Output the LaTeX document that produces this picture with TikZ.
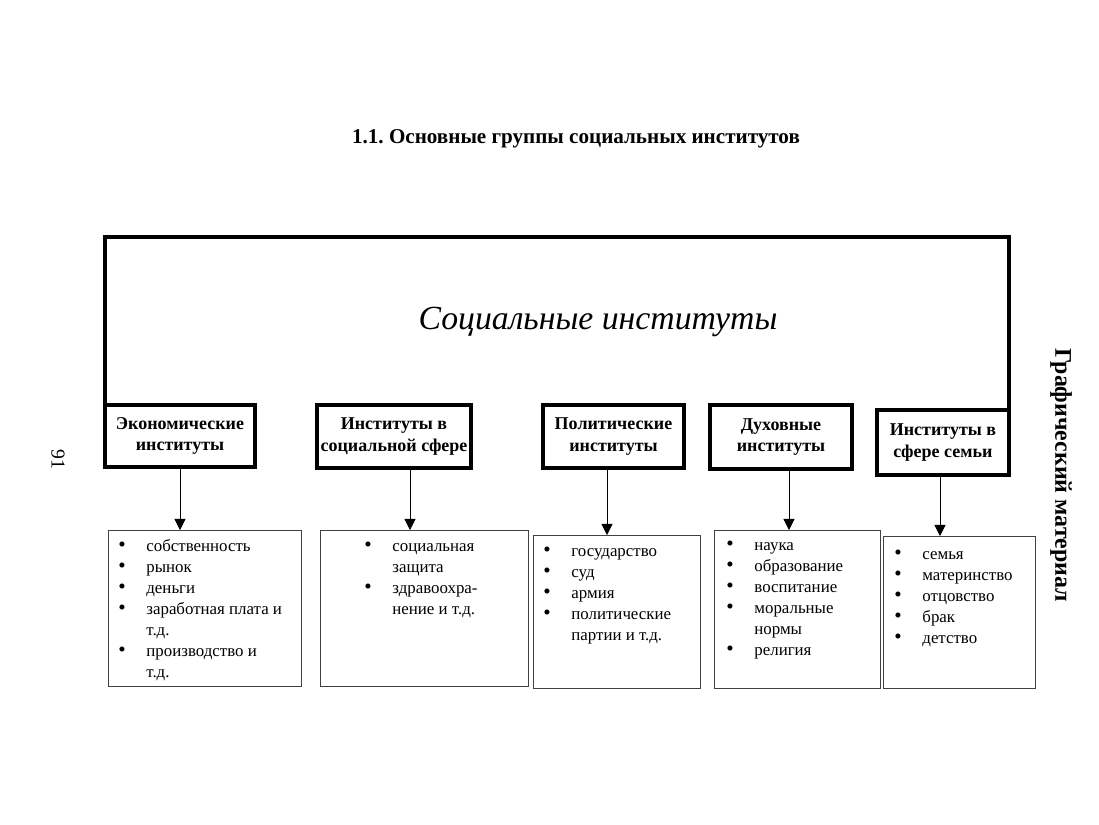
\documentclass[tikz,border=0pt]{standalone}
\usepackage{fontspec}
\setmainfont{Liberation Serif}
\usetikzlibrary{calc}
\usetikzlibrary{arrows.meta}
\usetikzlibrary{positioning}
\newlength\px
\setlength\px{0.025cm}
\newcommand{\bul}{{\fontsize{15}{14.9}\selectfont\textbullet}}
\tikzset{catbox/.style={rectangle,draw=black,line width=2.4pt,outer sep=0pt,fill=white,align=center,inner sep=1pt,font=\fontsize{12.8}{15.5}\selectfont\bfseries}}
\tikzset{listbox/.style={rectangle,draw=black!75,line width=0.6pt,outer sep=0pt,anchor=north west}}
\tikzset{listtext/.style={anchor=north west,inner sep=0pt,font=\fontsize{12}{14.9}\selectfont}}
\tikzset{arr/.style={line width=0.5pt,-{Triangle[width=8pt,length=8pt]}}}

\begin{document}
\begin{tikzpicture}[x=0.025cm,y=-0.025cm]
\useasboundingbox (0,0) rectangle (1099,824);

\node[font=\fontsize{15}{18}\selectfont\bfseries] (title) at (576,139) {1.1.\ Основные группы социальных институтов};

% group boxes
\node[catbox,minimum width=150\px,minimum height=62\px] (cat1) at (180,436) {Экономические\\институты};
\node[catbox,minimum width=154\px,minimum height=63\px] (cat2) at (394,436.5) {Институты в\\социальной сфере};
\node[catbox,minimum width=141\px,minimum height=63\px] (cat3) at (613.5,436.5) {Политические\\институты};
\node[catbox,minimum width=142\px,minimum height=64\px] (cat4) at (781,437) {Духовные\\институты};
\node[catbox,minimum width=132\px,minimum height=65\px] (cat5) at (943,442.5) {Институты в\\сфере семьи};

% main frame
\coordinate (tr) at (1009,237);
\draw[line width=2.6pt,line join=miter] (cat1.north west) |- (tr) -- (cat5.north east);
\node[font=\fontsize{24}{28}\selectfont\itshape] (big) at (598,322) {Социальные институты};

% lists
\node[listbox,minimum width=193\px,minimum height=156\px] (lst1) at (108,530) {};
\node[listbox,minimum width=208\px,minimum height=156\px] (lst2) at (320,530) {};
\node[listbox,minimum width=167\px,minimum height=153\px] (lst3) at (533,535) {};
\node[listbox,minimum width=166\px,minimum height=158\px] (lst4) at (714,530) {};
\node[listbox,minimum width=152\px,minimum height=152\px] (lst5) at (883,536) {};

\node[listtext] (txt1) at ($(lst1.north west)+(10,7)$) {\begin{tabular}{@{}p{20pt}@{}l@{}}
\bul & собственность\\
\bul & рынок\\
\bul & деньги\\
\bul & заработная плата и\\
 & т.д.\\
\bul & производство и\\
 & т.д.
\end{tabular}};
\node[listtext] (txt2) at ($(lst2.north west)+(44,7)$) {\begin{tabular}{@{}p{20pt}@{}l@{}}
\bul & социальная\\
 & защита\\
\bul & здравоохра-\\
 & нение и т.д.
\end{tabular}};
\node[listtext] (txt3) at ($(lst3.north west)+(10,7)$) {\begin{tabular}{@{}p{20pt}@{}l@{}}
\bul & государство\\
\bul & суд\\
\bul & армия\\
\bul & политические\\
 & партии и т.д.
\end{tabular}};
\node[listtext] (txt4) at ($(lst4.north west)+(12,6)$) {\begin{tabular}{@{}p{20pt}@{}l@{}}
\bul & наука\\
\bul & образование\\
\bul & воспитание\\
\bul & моральные\\
 & нормы\\
\bul & религия
\end{tabular}};
\node[listtext] (txt5) at ($(lst5.north west)+(11,9)$) {\begin{tabular}{@{}p{20pt}@{}l@{}}
\bul & семья\\
\bul & материнство\\
\bul & отцовство\\
\bul & брак\\
\bul & детство
\end{tabular}};

\foreach \i / \x in {1/180,2/410,3/607,4/789,5/940}
{
	\coordinate (x\i) at (\x,0);
	\draw[arr] (cat\i.south -| x\i) -- (lst\i.north -| x\i);
}

\node[rotate=-90,font=\fontsize{17}{20}\selectfont\bfseries] (side) at (1061,475) {Графический материал};
\node[rotate=-90,font=\fontsize{14}{16}\selectfont] (page) at (58,459) {91};

\end{tikzpicture}
\end{document}
